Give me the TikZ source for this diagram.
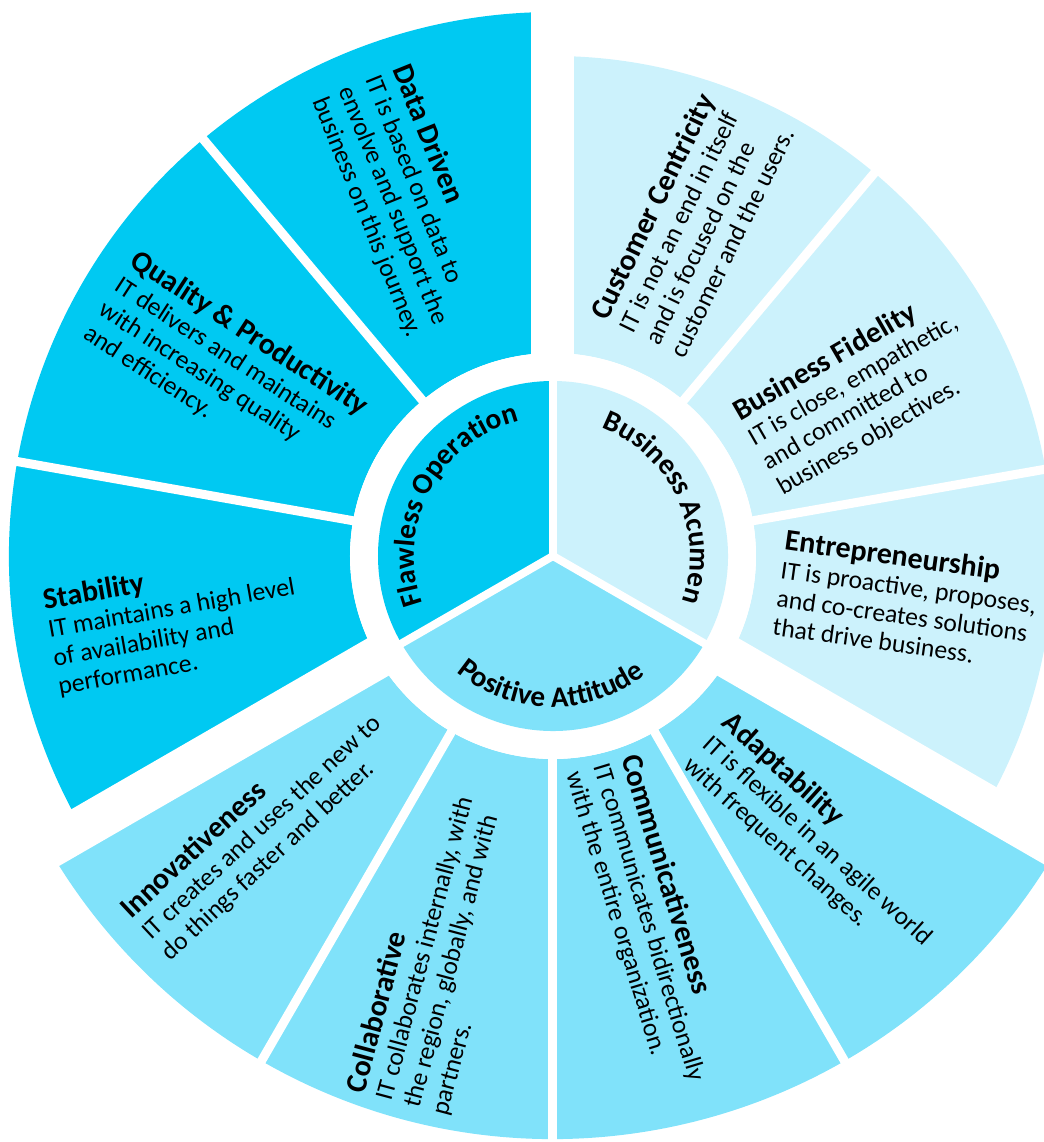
\documentclass[tikz,border=0pt]{standalone}
\usepackage{fontspec}
\setmainfont{Carlito}
\usetikzlibrary{decorations.text}
\definecolor{flawless}{RGB}{0,201,242}
\definecolor{positive}{RGB}{128,226,250}
\definecolor{acumen}{RGB}{204,242,252}
\newcommand{\ttl}[1]{{\fontsize{22.5}{21}\selectfont\bfseries #1}}

\begin{document}
\begin{tikzpicture}[x=0.75pt,y=0.75pt,
  segcut/.style={white,line width=6.75pt},
  groupcut/.style={white,line width=32.25pt},
  corecut/.style={white,line width=6pt},
  blurb/.style={font=\fontsize{19.25}{21.5}\selectfont,align=left,inner sep=0pt,anchor=center},
  arclabel/.style={decorate,decoration={text along path,text align=center,text={|\fontsize{22}{22}\selectfont\bfseries|#1}}}]
\useasboundingbox (-553,-586) rectangle (490,556);

%Shape: Ring Sector
\fill[flawless] (90:203) arc[start angle=90,end angle=210,radius=203] -- (210:544) arc[start angle=210,end angle=90,radius=544] -- cycle;
%Shape: Ring Sector
\fill[acumen] (-30:203) arc[start angle=-30,end angle=90,radius=203] -- (90:500) arc[start angle=90,end angle=-30,radius=500] -- cycle;
%Shape: Ring Sector
\fill[positive] (210:203) arc[start angle=210,end angle=330,radius=203] -- (330:583) arc[start angle=330,end angle=210,radius=583] -- cycle;

%Straight Lines
\foreach \a in {130,170,10,50,240,270,300}
  \draw[segcut] (0,0) -- (\a:640);
\foreach \a in {90,210,330}
  \draw[groupcut] (0,0) -- (\a:640);

%Shape: Circle
\fill[white] (0,0) circle[radius=203];

%Shape: Sector
\fill[flawless] (0,0) -- (90:175) arc[start angle=90,end angle=210,radius=175] -- cycle;
\fill[acumen] (0,0) -- (-30:175) arc[start angle=-30,end angle=90,radius=175] -- cycle;
\fill[positive] (0,0) -- (210:175) arc[start angle=210,end angle=330,radius=175] -- cycle;
\foreach \a in {90,210,330}
  \draw[corecut] (0,0) -- (\a:180);

% Curved Text
\path[arclabel={Flawless Operation}] (212:139) arc[start angle=212,end angle=92,radius=139];
\path[arclabel={Business Acumen}] (85:137) arc[start angle=85,end angle=-35,radius=137];
\path[arclabel={Positive Attitude}] (209:151) arc[start angle=209,end angle=329,radius=151];

% Text Node
\node[blurb,rotate=-68] (datadriven) at (-145,355) {\ttl{Data Driven}\\IT is based on data to\\envolve and support the\\business on this journey.};
% Text Node
\node[blurb,rotate=-33] (quality) at (-327,186) {\ttl{Quality \& Productivity}\\IT delivers and maintains\\with increasing quality\\and efficiency.};
% Text Node
\node[blurb,rotate=10] (stability) at (-379,-66) {\ttl{Stability}\\IT maintains a high level\\of availability and\\performance.};
% Text Node
\node[blurb,rotate=43] (innovative) at (-292,-271) {\ttl{Innovativeness}\\IT creates and uses the new to\\do things faster and better.};
% Text Node
\node[blurb,rotate=75] (collab) at (-115,-396) {\ttl{Collaborative}\\IT collaborates internally, with\\the region, globally, and with\\partners.};
% Text Node
\node[blurb,rotate=-73] (communic) at (97,-366) {\ttl{Communicativeness}\\IT communicates bidirectionally\\with the entire organization.};
% Text Node
\node[blurb,rotate=-42] (adapt) at (265,-284) {\ttl{Adaptability}\\IT is flexible in an agile world\\with frequent changes.};
% Text Node
\node[blurb,rotate=64] (customer) at (139,333) {\ttl{Customer Centricity}\\IT is not an end in itself\\and is focused on the\\customer and the users.};
% Text Node
\node[blurb,rotate=30] (fidelity) at (307,164) {\ttl{Business Fidelity}\\IT is close, empathetic,\\and committed to\\business objectives.};
% Text Node
\node[blurb,rotate=-8] (entre) at (354,-44) {\ttl{Entrepreneurship}\\IT is proactive, proposes,\\and co-creates solutions\\that drive business.};

\end{tikzpicture}
\end{document}
